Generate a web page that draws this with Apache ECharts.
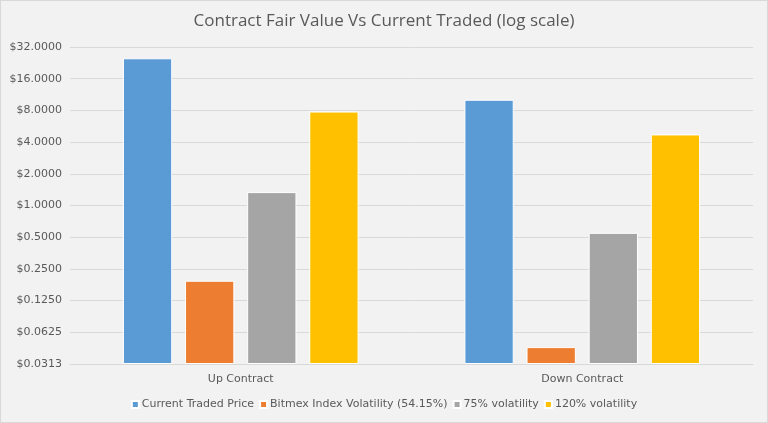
<!DOCTYPE html>
<html><head><meta charset="utf-8">
<script src="https://cdn.jsdelivr.net/npm/echarts@6/dist/echarts.min.js"></script>
<style>html,body{margin:0;padding:0;background:#f2f2f2;}#c{width:768px;height:423px;box-sizing:border-box;border:1px solid #d9d9d9;}</style>
</head><body><div id="c"></div>
<script>
const categories = ['Up Contract', 'Down Contract'];
const seriesNames = ['Current Traded Price', 'Bitmex Index Volatility (54.15%)', '75% volatility', '120% volatility'];
const currentTraded = [25.0, 10.1];
const bitmexVol = [0.193, 0.0452];
const vol75 = [1.34, 0.55];
const vol120 = [7.8, 4.73];
const tickPowers = [-5, -4, -3, -2, -1, 0, 1, 2, 3, 4, 5]; // y ticks: 2^p dollars
const colors = ['#5b9bd5', '#ed7d31', '#a5a5a5', '#ffc000'];
const values = [currentTraded, bitmexVol, vol75, vol120];

// log2 scale with baseline at the axis minimum (2^-5), so bars grow from the bottom
const base = tickPowers[0];
const toAxis = v => Math.log2(v) - base;

const chart = echarts.init(document.getElementById('c'));
chart.setOption({
  backgroundColor: '#f2f2f2',
  animation: false,
  title: {
    text: 'Contract Fair Value Vs Current Traded (log scale)',
    left: 'center', top: 7,
    textStyle: {fontFamily: 'Open Sans', fontSize: 17, fontWeight: 'normal', color: '#595959'}
  },
  legend: {
    bottom: 7, left: 'center', itemWidth: 7, itemHeight: 7, itemGap: 5,
    icon: 'rect',
    textStyle: {fontFamily: 'DejaVu Sans', fontSize: 11, color: '#595959', padding: [0,0,0,-2]},
    data: seriesNames
  },
  grid: {left: 69, right: 14, top: 46, bottom: 58},
  xAxis: {
    type: 'category', data: categories,
    axisLine: {lineStyle: {color: '#d9d9d9'}},
    axisTick: {show: false},
    axisLabel: {fontFamily: 'DejaVu Sans', fontSize: 11, color: '#595959', margin: 10}
  },
  yAxis: {
    type: 'value', min: 0, max: tickPowers[tickPowers.length - 1] - base, interval: 1,
    axisLine: {show: false}, axisTick: {show: false},
    splitLine: {lineStyle: {color: '#d9d9d9', width: 1}},
    axisLabel: {fontFamily: 'DejaVu Sans', fontSize: 11, color: '#595959', margin: 8,
      formatter: v => '$' + Math.pow(2, v + base).toFixed(4)}
  },
  series: seriesNames.map((n, i) => ({
    name: n, type: 'bar', data: values[i].map(toAxis),
    barGap: '26%', barCategoryGap: '31%',
    itemStyle: {color: colors[i], borderColor: '#ffffff', borderWidth: 1}
  }))
});
</script></body></html>
